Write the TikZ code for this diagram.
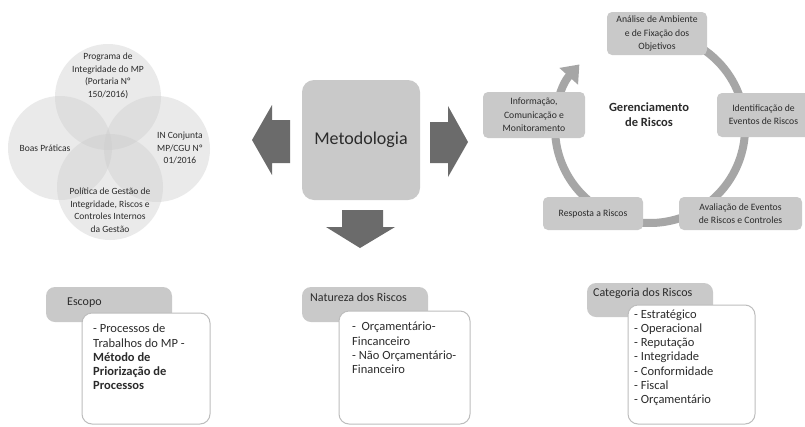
\documentclass[tikz,border=0pt]{standalone}
\usepackage{fontspec}
\setmainfont{Carlito}
\usetikzlibrary{arrows.meta}
\definecolor{boxgray}{HTML}{C9C9C9}
\definecolor{arrowgray}{HTML}{6B6B6B}
\definecolor{ringgray}{HTML}{A6A6A6}
\definecolor{txt}{HTML}{2B2B2B}
\definecolor{edgegray}{HTML}{BDBDBD}
\begin{document}
\begin{tikzpicture}[x=1pt,y=-1pt,
  venn/.style={circle,draw=none,fill=gray!40,fill opacity=0.4,minimum size=#1,inner sep=0pt},
  venntext/.style={text=txt,align=center,font=\fontsize{9.5}{12.5}\selectfont,inner sep=0pt},
  bigarrow/.style={fill=arrowgray},
  cycbox/.style={fill=boxgray,rounded corners=5pt,inner sep=0pt,text=txt,align=center,font=\fontsize{9.7}{13.3}\selectfont},
  tabbox/.style={fill=boxgray,rounded corners=9pt,inner sep=0pt},
  listbox/.style={fill=white,draw=edgegray,line width=1pt,rounded corners=10pt,inner sep=0pt},
  listtext/.style={text=txt,align=left,anchor=north west,inner sep=0pt,font=\fontsize{12.5}{14.2}\selectfont},
  tabtext/.style={text=txt,anchor=west,inner sep=0pt,font=\fontsize{12}{14}\selectfont}]
\useasboundingbox (0,0) rectangle (805,426);
\fill[white] (0,0) rectangle (805,426);

% Venn diagram
\node[venn=106pt] (ctop) at (108,97) {};
\node[venn=104pt] (cleft) at (60,148) {};
\node[venn=106pt] (cright) at (157,149) {};
\node[venn=106pt] (cbot) at (110,187) {};
\node[venntext] (ttop) at (108,76) {Programa de\\Integridade do MP\\(Portaria Nº\\150/2016)};
\node[venntext] (tleft) at (45,148) {Boas Práticas};
\node[venntext] (tright) at (180,148) {IN Conjunta\\MP/CGU Nº\\01/2016};
\node[venntext] (tbot) at (110,210) {Política de Gestão de\\Integridade, Riscos e\\Controles Internos\\da Gestão};

% Metodologia
\node[fill=boxgray,rounded corners=12pt,minimum width=118pt,minimum height=120pt,inner sep=0pt,
      text=txt,font=\fontsize{18}{20}\selectfont] (met) at (361,140) {Metodologia};
\fill[bigarrow] (290,120) -- (272,120) -- (272,105) -- (252,140) -- (272,175) -- (272,163) -- (290,163) -- cycle;
\fill[bigarrow] (430,122) -- (448,122) -- (448,106) -- (468,142) -- (448,177) -- (448,163) -- (430,163) -- cycle;
\fill[bigarrow] (342,210) -- (383,210) -- (383,227) -- (395,227) -- (360,248) -- (326,227) -- (342,227) -- cycle;

% Risk management cycle
\coordinate (ring) at (650,128);
\draw[ringgray,line width=8pt,-{Triangle[width=24pt,length=16pt]}]
  ([shift={(-100:95)}]ring) arc[start angle=-100,end angle=222,radius=95];
\node[cycbox,minimum width=100pt,minimum height=43pt] (ana) at (657,33.5) {Análise de Ambiente\\e de Fixação dos\\Objetivos};
\node[cycbox,minimum width=93pt,minimum height=44pt] (ide) at (763.5,115) {Identificação de\\Eventos de Riscos};
\node[cycbox,minimum width=123pt,minimum height=33pt] (ava) at (740.5,213.5) {Avaliação de Eventos\\de Riscos e Controles};
\node[cycbox,minimum width=100pt,minimum height=33pt] (res) at (593,213.5) {Resposta a Riscos};
\node[cycbox,minimum width=102pt,minimum height=46pt] (inf) at (534,115) {Informação,\\Comunicação e\\Monitoramento};
\node[text=txt,align=center,inner sep=0pt,font=\fontsize{12.5}{15}\selectfont\bfseries] (ger) at (649,115) {Gerenciamento\\de Riscos};

% Escopo
\node[tabbox,minimum width=126pt,minimum height=35pt] (esctab) at (109,304.5) {};
\node[tabtext] (esclbl) at (67,303) {Escopo};
\node[listbox,minimum width=128pt,minimum height=111pt] (escbox) at (146,368.5) {};
\node[listtext] (esctxt) at (93,324) {- Processos de\\Trabalhos do MP -\\\textbf{Método de}\\\textbf{Priorização de}\\\textbf{Processos}};

% Natureza
\node[tabbox,minimum width=126pt,minimum height=35pt] (nattab) at (365,304.5) {};
\node[tabtext] (natlbl) at (310,297) {Natureza dos Riscos};
\node[listbox,minimum width=131pt,minimum height=113pt] (natbox) at (404.5,367.5) {};
\node[listtext] (nattxt) at (352,322) {-\ \ Orçamentário-\\Fincanceiro\\- Não Orçamentário-\\Financeiro};

% Categoria
\node[tabbox,minimum width=126pt,minimum height=34pt] (cattab) at (650,300) {};
\node[tabtext] (catlbl) at (593,293) {Categoria dos Riscos};
\node[listbox,minimum width=127pt,minimum height=119pt] (catbox) at (691.5,364.5) {};
\node[listtext] (cattxt) at (634,309.5) {- Estratégico\\- Operacional\\- Reputação\\- Integridade\\- Conformidade\\- Fiscal\\- Orçamentário};
\end{tikzpicture}
\end{document}
